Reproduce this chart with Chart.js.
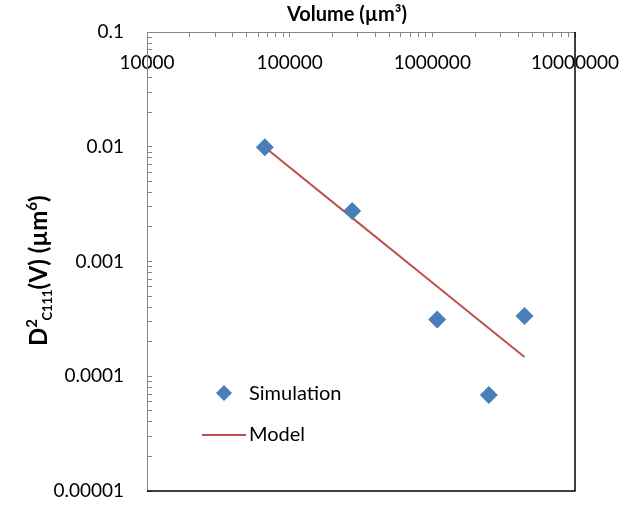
<!DOCTYPE html>
<html>
<head>
<meta charset="utf-8">
<script src="https://cdn.jsdelivr.net/npm/chart.js@4.4.1/dist/chart.umd.min.js"></script>
<style>
  html, body { margin: 0; padding: 0; background: #fff; overflow: hidden; }
  canvas { display: block; }
</style>
</head>
<body>
<canvas id="chart" width="619" height="505"></canvas>
<script>
const volumes = [66950, 274400, 1081000, 2488000, 4426000];
const simulation = [0.0099, 0.00275, 0.000313, 0.0000687, 0.000335];
const model = [0.0099, 0.0024, 0.000605, 0.000262, 0.000147];

const xTicks = [10000, 100000, 1000000, 10000000];
const yTicks = [0.00001, 0.0001, 0.001, 0.01, 0.1];
const yTickLabels = ['0.00001', '0.0001', '0.001', '0.01', '0.1'];

const BLUE = '#4a7ebb';
const RED = '#c0504d';
const FONT = 'Lato, "Liberation Sans", sans-serif';

// decade ticks plus the 2..9 minor marks between them
function logTicks(decades) {
    const out = [];
    for (let i = 0; i < decades.length; i++) {
        out.push({ value: decades[i], major: true });
        if (i < decades.length - 1) {
            for (let m = 2; m <= 9; m++) {
                out.push({ value: +(decades[i] * m).toPrecision(3), major: false });
            }
        }
    }
    return out;
}

function isDecade(v) {
    const l = Math.log10(v);
    return Math.abs(l - Math.round(l)) < 1e-9;
}

// label padding would otherwise shrink the plot area
function fixSize(prop, size) {
    return function (s) {
        s[prop] = size;
        s.paddingTop = 0;
        s.paddingBottom = 0;
        s.paddingLeft = 0;
        s.paddingRight = 0;
    };
}

const frame = {
    id: 'frame',
    afterDraw(chart) {
        const { ctx, chartArea: a } = chart;
        ctx.save();
        ctx.strokeStyle = '#000';
        ctx.lineWidth = 1.5;
        ctx.beginPath();
        ctx.moveTo(a.left, a.bottom);
        ctx.lineTo(a.right, a.bottom);
        ctx.lineTo(a.right, a.top);
        ctx.stroke();

        // x title
        ctx.fillStyle = '#000';
        ctx.textAlign = 'center';
        ctx.textBaseline = 'middle';
        ctx.font = 'bold 20px ' + FONT;
        ctx.fillText('Volume (\u00b5m\u00b3)', 347, 15);

        // legend inside the plot area
        const sim = chart.data.datasets[0];
        const mod = chart.data.datasets[1];
        ctx.font = '20px ' + FONT;
        ctx.textAlign = 'left';
        ctx.fillStyle = sim.backgroundColor;
        ctx.beginPath();
        ctx.moveTo(224, 385);
        ctx.lineTo(232, 393);
        ctx.lineTo(224, 401);
        ctx.lineTo(216, 393);
        ctx.closePath();
        ctx.fill();
        ctx.fillStyle = '#000';
        ctx.fillText(sim.label, 249, 394);
        ctx.strokeStyle = mod.borderColor;
        ctx.lineWidth = 2;
        ctx.beginPath();
        ctx.moveTo(202, 435);
        ctx.lineTo(246, 435);
        ctx.stroke();
        ctx.fillText(mod.label, 249, 435);

        // y title with superscript and subscript
        ctx.translate(47, 270);
        ctx.rotate(-Math.PI / 2);
        ctx.textBaseline = 'alphabetic';
        const parts = [
            ['D', 24, 0],
            ['2', 15, -10],
            ['C111', 13, 5],
            ['(V) (\u00b5m', 24, 0],
            ['6', 15, -10],
            [')', 24, 0]
        ];
        let total = 0;
        parts.forEach(function (p) {
            ctx.font = 'bold ' + p[1] + 'px ' + FONT;
            total += ctx.measureText(p[0]).width;
        });
        let x = -total / 2;
        parts.forEach(function (p, i) {
            ctx.font = 'bold ' + p[1] + 'px ' + FONT;
            // the subscript starts under the superscript
            if (i === 2) x -= ctx.measureText('2').width * 0.2;
            ctx.fillText(p[0], x, p[2]);
            x += ctx.measureText(p[0]).width;
        });
        ctx.restore();
    }
};

new Chart(document.getElementById('chart'), {
    type: 'scatter',
    data: {
        datasets: [
            {
                label: 'Simulation',
                data: volumes.map(function (v, i) { return { x: v, y: simulation[i] }; }),
                pointStyle: 'rectRot',
                pointRadius: 9,
                backgroundColor: BLUE,
                borderColor: BLUE,
                borderWidth: 0,
                order: 1
            },
            {
                label: 'Model',
                type: 'line',
                data: volumes.map(function (v, i) { return { x: v, y: model[i] }; }),
                borderColor: RED,
                borderWidth: 2,
                pointRadius: 0,
                fill: false,
                order: 2
            }
        ]
    },
    options: {
        responsive: false,
        animation: false,
        layout: { padding: { top: 0, left: 0, right: 44, bottom: 14 } },
        plugins: {
            legend: { display: false },
            tooltip: { enabled: false }
        },
        scales: {
            x: {
                type: 'logarithmic',
                position: 'top',
                min: xTicks[0],
                max: xTicks[xTicks.length - 1],
                afterBuildTicks: function (s) { s.ticks = logTicks(xTicks); },
                afterFit: fixSize('height', 32),
                border: { color: '#868686', width: 1 },
                grid: { drawOnChartArea: false, tickLength: -5, color: '#868686' },
                ticks: {
                    mirror: true,
                    padding: 19,
                    autoSkip: false,
                    maxRotation: 0,
                    color: '#000',
                    font: { family: FONT, size: 19 },
                    callback: function (v) { return isDecade(v) ? String(v) : ''; }
                }
            },
            y: {
                type: 'logarithmic',
                position: 'left',
                min: yTicks[0],
                max: yTicks[yTicks.length - 1],
                afterBuildTicks: function (s) { s.ticks = logTicks(yTicks); },
                afterFit: fixSize('width', 147),
                border: { color: '#868686', width: 1 },
                grid: { drawOnChartArea: false, tickLength: -5, color: '#868686' },
                ticks: {
                    padding: 28,
                    autoSkip: false,
                    color: '#000',
                    font: { family: FONT, size: 19 },
                    callback: function (v) {
                        const k = yTicks.findIndex(function (t) { return Math.abs(t - v) / t < 1e-6; });
                        return k >= 0 ? yTickLabels[k] : '';
                    }
                }
            }
        }
    },
    plugins: [frame]
});
</script>
</body>
</html>
